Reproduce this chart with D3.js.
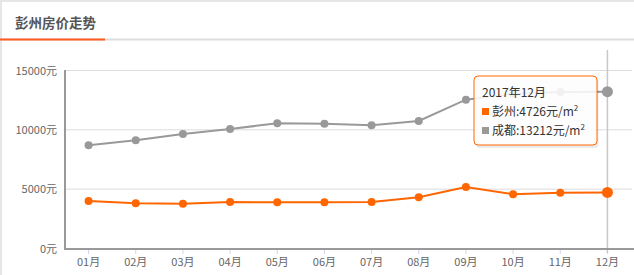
<!DOCTYPE html>
<html>
<head>
<meta charset="utf-8">
<script src="https://cdn.jsdelivr.net/npm/d3@7"></script>
<style>
  body { margin: 0; background: #fff; font-family: "Microsoft YaHei", "Noto Sans CJK SC", sans-serif; }
  svg { display: block; }
</style>
</head>
<body>
<script>
const width = 634;
const height = 275;

// data
const months = ['01月', '02月', '03月', '04月', '05月', '06月', '07月', '08月', '09月', '10月', '11月', '12月'];
const pengzhou = [4003, 3808, 3780, 3918, 3890, 3890, 3918, 4314, 5182, 4567, 4702, 4726];
const chengdu = [8697, 9118, 9649, 10070, 10550, 10520, 10380, 10744, 12540, 13050, 13190, 13212];
const yTicks = [0, 5000, 10000, 15000];
const hoverIndex = 11;

const svg = d3.select('body').append('svg')
    .attr('width', width)
    .attr('height', height);

// card frame + header
svg.append('line').attr('x1', 0).attr('x2', width).attr('y1', 1).attr('y2', 1)
    .attr('stroke', '#e6e6e6').attr('stroke-width', 2);
svg.append('line').attr('x1', 1).attr('x2', 1).attr('y1', 0).attr('y2', height)
    .attr('stroke', '#e6e6e6').attr('stroke-width', 2);
svg.append('text')
    .attr('x', 15).attr('y', 28)
    .attr('font-size', 13.5).attr('font-weight', 'bold').attr('fill', '#555')
    .text('彭州房价走势');
svg.append('rect').attr('x', 0).attr('y', 38.5).attr('width', width).attr('height', 2).attr('fill', '#dddddd');
svg.append('rect').attr('x', 0).attr('y', 38.5).attr('width', 105).attr('height', 2).attr('fill', '#ff5a1f');

// scales
const x = d3.scaleBand().domain(months).range([65, 631]);
const cx = d => x(d) + x.bandwidth() / 2;
const y = d3.scaleLinear().domain([0, 15000]).range([248.5, 70.5]);

// grid
svg.append('g').selectAll('line').data(yTicks).enter().append('line')
    .attr('x1', 65).attr('x2', 632)
    .attr('y1', d => y(d)).attr('y2', d => y(d))
    .attr('stroke', '#dcdcdc').attr('stroke-width', 1);

// y axis labels
svg.append('g').selectAll('text').data(yTicks).enter().append('text')
    .attr('x', 57).attr('y', d => y(d) + 4)
    .attr('text-anchor', 'end').attr('font-size', 11).attr('fill', '#666')
    .text(d => d + '元');

// x ticks + labels
svg.append('g').selectAll('line').data(months).enter().append('line')
    .attr('x1', d => cx(d)).attr('x2', d => cx(d))
    .attr('y1', 249).attr('y2', 254)
    .attr('stroke', '#ccd6eb');
svg.append('g').selectAll('text').data(months).enter().append('text')
    .attr('x', d => cx(d)).attr('y', 266)
    .attr('text-anchor', 'middle').attr('font-size', 11).attr('fill', '#666')
    .text(d => d);

// crosshair
svg.append('line')
    .attr('x1', cx(months[hoverIndex])).attr('x2', cx(months[hoverIndex]))
    .attr('y1', 50).attr('y2', 253)
    .attr('stroke', '#c8c8c8').attr('stroke-width', 1.5);

// axes lines
svg.append('line').attr('x1', 65).attr('x2', 65).attr('y1', 70).attr('y2', 249.5)
    .attr('stroke', '#999').attr('stroke-width', 2);
svg.append('line').attr('x1', 64).attr('x2', 634).attr('y1', 249).attr('y2', 249)
    .attr('stroke', '#999').attr('stroke-width', 2);

// series
const line = d3.line().x((d, i) => cx(months[i])).y(d => y(d));
const series = [
  { values: chengdu, color: '#999999' },
  { values: pengzhou, color: '#ff6600' }
];
series.forEach(s => {
  svg.append('path').datum(s.values)
      .attr('d', line)
      .attr('fill', 'none').attr('stroke', s.color).attr('stroke-width', 2);
  svg.append('g').selectAll('circle').data(s.values).enter().append('circle')
      .attr('cx', (d, i) => cx(months[i]))
      .attr('cy', d => y(d))
      .attr('r', (d, i) => i === hoverIndex ? 5.5 : 4)
      .attr('fill', s.color);
});

// tooltip
const tip = svg.append('g').attr('transform', 'translate(474,76)');
tip.append('rect')
    .attr('x', 1.5).attr('y', 2).attr('width', 123).attr('height', 70).attr('rx', 4)
    .attr('fill', '#000').attr('opacity', 0.08);
tip.append('rect')
    .attr('x', 0).attr('y', 0).attr('width', 123).attr('height', 69).attr('rx', 4)
    .attr('fill', '#fff').attr('fill-opacity', 0.88)
    .attr('stroke', '#ff6600').attr('stroke-width', 1);
tip.append('text').attr('x', 8).attr('y', 21)
    .attr('font-size', 12).attr('fill', '#333').text('2017年' + months[hoverIndex]);
const tipRows = [
  { name: '彭州', value: pengzhou[hoverIndex], color: '#ff6600' },
  { name: '成都', value: chengdu[hoverIndex], color: '#999999' }
];
tipRows.forEach((r, i) => {
  const ty = 40 + i * 19;
  tip.append('rect').attr('x', 8).attr('y', ty - 8).attr('width', 7).attr('height', 7).attr('fill', r.color);
  const t = tip.append('text').attr('x', 18).attr('y', ty)
      .attr('font-size', 12).attr('fill', '#333');
  t.append('tspan').text(r.name + ':' + r.value + '元/m');
  t.append('tspan').attr('font-size', 8).attr('dy', -5).text('2');
});
</script>
</body>
</html>
